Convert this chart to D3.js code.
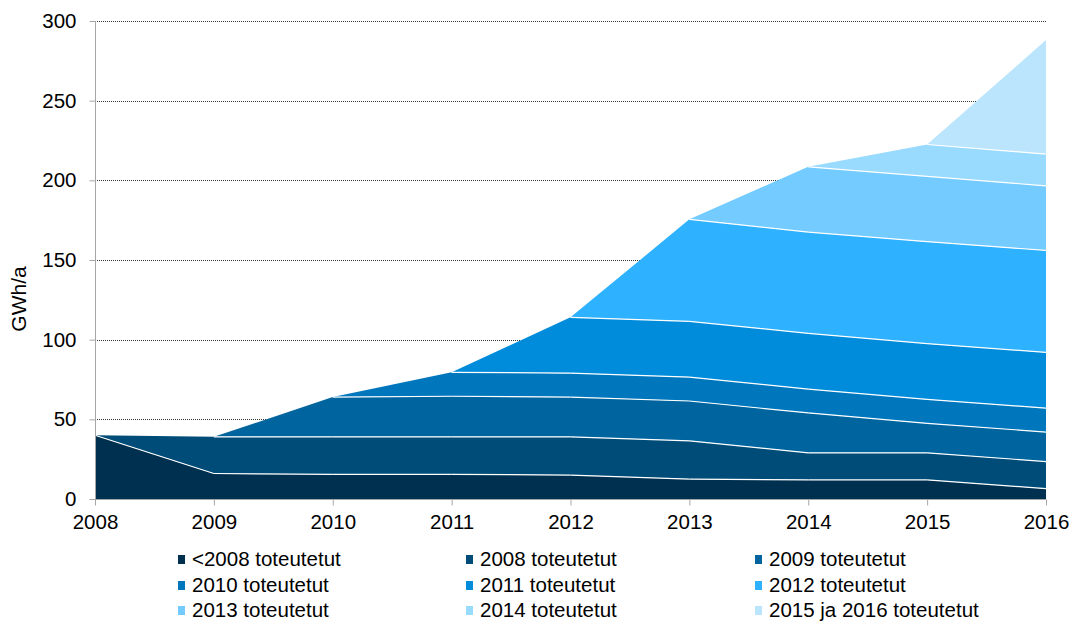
<!DOCTYPE html>
<html>
<head>
<meta charset="utf-8">
<script src="https://cdn.jsdelivr.net/npm/d3@7"></script>
<style>
  html, body { margin: 0; padding: 0; background: #fff; }
  svg { display: block; font-family: "Liberation Sans", Arial, sans-serif; }
</style>
</head>
<body>
<svg id="chart" width="1071" height="622"></svg>
<script>
// ---- data ----
const years = [2008, 2009, 2010, 2011, 2012, 2013, 2014, 2015, 2016];
const seriesNames = ["<2008 toteutetut", "2008 toteutetut", "2009 toteutetut",
  "2010 toteutetut", "2011 toteutetut", "2012 toteutetut",
  "2013 toteutetut", "2014 toteutetut", "2015 ja 2016 toteutetut"];
const sBefore2008 = [40, 16, 15.5, 15.5, 15, 12.5, 12, 12, 6.5];
const s2008 = [0, 23, 23.5, 23.5, 24, 24, 17, 17, 17];
const s2009 = [0, 0, 25, 25.5, 25, 25, 25, 18.5, 18.5];
const s2010 = [0, 0, 0, 15, 15, 15, 15, 15, 15];
const s2011 = [0, 0, 0, 0, 35, 35, 35, 35, 35];
const s2012 = [0, 0, 0, 0, 0, 64, 63.5, 64, 64];
const s2013 = [0, 0, 0, 0, 0, 0, 41, 41, 40.5];
const s2014 = [0, 0, 0, 0, 0, 0, 0, 20, 20];
const s2015_16 = [0, 0, 0, 0, 0, 0, 0, 0, 71.5];
const yTicks = [0, 50, 100, 150, 200, 250, 300];
const colors = ["#00304F", "#004C78", "#00659F", "#0077BD", "#008BDB",
  "#2EB1FF", "#73CBFF", "#99DAFF", "#BAE5FD"];

const allSeries = [sBefore2008, s2008, s2009, s2010, s2011, s2012, s2013, s2014, s2015_16];
const table = years.map((y, i) => {
  const row = { year: y };
  seriesNames.forEach((n, k) => row[n] = allSeries[k][i]);
  return row;
});

// ---- layout ----
const svg = d3.select("#chart");
const L = 95, R = 1046, T = 21, B = 499;
const FS = "20.5px";
const x = d3.scaleLinear().domain([2008, 2016]).range([L, R]);
const y = d3.scaleLinear().domain([0, 300]).range([B, T]);

// gridlines
svg.append("g").selectAll("line").data(yTicks.filter(d => d > 0)).join("line")
  .attr("x1", L).attr("x2", R)
  .attr("y1", d => Math.round(y(d)) + 0.5).attr("y2", d => Math.round(y(d)) + 0.5)
  .attr("stroke", "#333").attr("stroke-width", 1).attr("stroke-dasharray", "1,1");

// stacked areas
const stack = d3.stack().keys(seriesNames);
const layers = stack(table);
const area = d3.area()
  .x(d => x(d.data.year))
  .y0(d => y(d[0]))
  .y1(d => y(d[1]));
svg.append("g").selectAll("path").data(layers).join("path")
  .attr("d", area)
  .attr("fill", (d, i) => colors[i]);

// white separators between layers
const sepG = svg.append("g");
layers.forEach((layer, i) => {
  for (let k = 0; k < years.length - 1; k++) {
    let internal = false;
    for (let j = i + 1; j < layers.length; j++) {
      if (allSeries[j][k] > 0 || allSeries[j][k + 1] > 0) internal = true;
    }
    if (!internal) continue;
    sepG.append("path")
      .attr("d", d3.line()([[x(years[k]), y(layer[k][1])], [x(years[k + 1]), y(layer[k + 1][1])]]))
      .attr("stroke", "#fff").attr("stroke-width", 1.2).attr("fill", "none");
  }
});

// axes
const yAxis = d3.axisLeft(y).tickValues(yTicks).tickSize(6).tickPadding(13);
const gy = svg.append("g").attr("transform", `translate(${L + 0.5},0)`).call(yAxis);
gy.select(".domain").attr("stroke", "#A6A6A6").attr("d", `M0,${B}V${T}`);
gy.selectAll(".tick line").attr("stroke", "#A6A6A6");
gy.selectAll(".tick text").attr("font-size", FS).attr("fill", "#000")
  .attr("font-family", "Liberation Sans, Arial, sans-serif");

const xAxis = d3.axisBottom(x).tickValues(years).tickFormat(d3.format("d")).tickSize(6).tickPadding(9);
const gx = svg.append("g").attr("transform", `translate(0,${B + 0.5})`).call(xAxis);
gx.select(".domain").attr("stroke", "#A6A6A6").attr("d", `M${L},0H${R}`);
gx.selectAll(".tick line").attr("stroke", "#A6A6A6");
gx.selectAll(".tick text").attr("font-size", FS).attr("fill", "#000")
  .attr("font-family", "Liberation Sans, Arial, sans-serif");

// y axis title
svg.append("text")
  .attr("transform", "translate(26,299) rotate(-90)")
  .attr("text-anchor", "middle")
  .attr("font-size", "21px")
  .text("GWh/a");

// legend
const legendX = [178, 466, 755];
const legendY = [559, 585, 610];
const lg = svg.append("g").selectAll("g").data(seriesNames).join("g")
  .attr("transform", (d, i) => `translate(${legendX[i % 3]},${legendY[Math.floor(i / 3)]})`);
lg.append("rect").attr("x", 0).attr("y", -4).attr("width", 7).attr("height", 9)
  .attr("fill", (d, i) => colors[i]);
lg.append("text").attr("x", 14).attr("y", 7)
  .attr("font-size", FS).text(d => d);
</script>
</body>
</html>
